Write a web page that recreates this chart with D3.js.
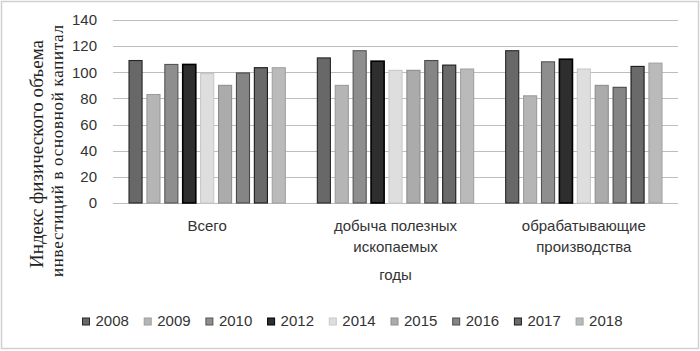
<!DOCTYPE html>
<html>
<head>
<meta charset="utf-8">
<script src="https://cdn.jsdelivr.net/npm/d3@7"></script>
<style>
  body { margin: 0; background: #fff; }
  svg { display: block; }
</style>
</head>
<body>
<svg id="chart" width="700" height="351"></svg>
<script>
// Data
const categories = ["Всего", "добыча полезных ископаемых", "обрабатывающие производства"];
const categoryLines = [["Всего"], ["добыча полезных", "ископаемых"], ["обрабатывающие", "производства"]];
const years = ["2008", "2009", "2010", "2012", "2014", "2015", "2016", "2017", "2018"];
const valuesTotal = [109, 83, 106, 106, 99, 90, 99.5, 103.5, 103.5];
const valuesMining = [111, 90, 116.5, 108.5, 101.5, 101.5, 109, 105.5, 102.5];
const valuesManufacturing = [116.5, 82, 108, 110, 102.5, 90, 88.5, 104.5, 107];
const yTicks = [0, 20, 40, 60, 80, 100, 120, 140];

const seriesByCategory = [valuesTotal, valuesMining, valuesManufacturing];

// grey shades for each year (fill / outline)
const fills = ["#686868", "#b5b5b5", "#8e8e8e", "#2e2e2e", "#dedede", "#ababab", "#858585", "#6a6a6a", "#bababa"];
const strokes = ["#262626", "#9c9c9c", "#555555", "#000000", "#c8c8c8", "#8e8e8e", "#4a4a4a", "#1a1a1a", "#a2a2a2"];

const svg = d3.select("#chart");
const W = 700, H = 351;

// outer frame
svg.append("rect")
  .attr("x", 1.5).attr("y", 1.5)
  .attr("width", W - 3).attr("height", H - 4)
  .attr("fill", "#fff")
  .attr("stroke", "#d0d0d0")
  .attr("stroke-width", 1.5);

const y = d3.scaleLinear().domain([0, 140]).range([203, 20]);

const x0 = d3.scaleBand().domain(categories).range([113, 678]).padding(0);
const inset = 16;
const x1 = d3.scaleBand()
  .domain(years)
  .range([inset, x0.bandwidth() - inset])
  .paddingInner(0.27)
  .paddingOuter(0);

// gridlines
svg.append("g")
  .selectAll("line")
  .data(yTicks)
  .join("line")
  .attr("x1", 113)
  .attr("x2", 678)
  .attr("y1", (d) => Math.round(y(d)) + 0.5)
  .attr("y2", (d) => Math.round(y(d)) + 0.5)
  .attr("stroke", "#bdbdbd")
  .attr("stroke-width", 1);

// y axis labels
const yAxis = d3.axisLeft(y).tickValues(yTicks).tickSize(0).tickPadding(0);
const gy = svg.append("g").attr("transform", "translate(97,0)").call(yAxis);
gy.select(".domain").remove();
gy.selectAll("text")
  .attr("font-family", "Liberation Sans, Arial, sans-serif")
  .attr("font-size", 15)
  .attr("fill", "#333");

// bars
const groups = svg.append("g")
  .selectAll("g")
  .data(categories)
  .join("g")
  .attr("transform", (d) => `translate(${x0(d)},0)`);

groups.selectAll("rect")
  .data((d, i) => years.map((yr, j) => ({ year: yr, idx: j, value: seriesByCategory[i][j] })))
  .join("rect")
  .attr("x", (d) => x1(d.year))
  .attr("y", (d) => y(d.value))
  .attr("width", x1.bandwidth())
  .attr("height", (d) => y(0) - y(d.value))
  .attr("fill", (d) => fills[d.idx])
  .attr("stroke", (d) => strokes[d.idx])
  .attr("stroke-width", (d) => (d.year === "2012" ? 1.6 : 1.1));

// category labels
const catLabels = svg.append("g")
  .selectAll("text")
  .data(categories)
  .join("text")
  .attr("text-anchor", "middle")
  .attr("font-family", "Liberation Sans, Arial, sans-serif")
  .attr("font-size", 15)
  .attr("fill", "#333");

catLabels.selectAll("tspan")
  .data((d, i) => categoryLines[i].map((line) => ({ line, cat: d })))
  .join("tspan")
  .attr("x", (d) => x0(d.cat) + x0.bandwidth() / 2)
  .attr("y", (d, i) => 231 + i * 21)
  .text((d) => d.line);

// x axis title
svg.append("text")
  .attr("x", x0(categories[1]) + x0.bandwidth() / 2)
  .attr("y", 280)
  .attr("text-anchor", "middle")
  .attr("font-family", "Liberation Sans, Arial, sans-serif")
  .attr("font-size", 15)
  .attr("fill", "#333")
  .text("годы");

// y axis title (two lines, serif)
svg.append("text")
  .attr("transform", "translate(43,154) rotate(-90)")
  .attr("text-anchor", "middle")
  .attr("font-family", "Liberation Serif, Times New Roman, serif")
  .attr("font-size", 19)
  .attr("fill", "#222")
  .attr("textLength", 228)
  .attr("lengthAdjust", "spacing")
  .text("Индекс физического объема");

svg.append("text")
  .attr("transform", "translate(63,151) rotate(-90)")
  .attr("text-anchor", "middle")
  .attr("font-family", "Liberation Serif, Times New Roman, serif")
  .attr("font-size", 17)
  .attr("fill", "#222")
  .attr("textLength", 252)
  .attr("lengthAdjust", "spacing")
  .text("инвестиций в основной капитал");

// legend
const legendStep = 61.7;
const legend = svg.append("g")
  .selectAll("g")
  .data(years)
  .join("g")
  .attr("transform", (d, i) => `translate(${82.5 + i * legendStep},0)`);

legend.append("rect")
  .attr("x", 0)
  .attr("y", 318)
  .attr("width", 7)
  .attr("height", 7)
  .attr("fill", (d, i) => fills[i])
  .attr("stroke", (d, i) => strokes[i])
  .attr("stroke-width", 1);

legend.append("text")
  .attr("x", 13)
  .attr("y", 325.5)
  .attr("font-family", "Liberation Sans, Arial, sans-serif")
  .attr("font-size", 15)
  .attr("fill", "#333")
  .text((d) => d);
</script>
</body>
</html>
